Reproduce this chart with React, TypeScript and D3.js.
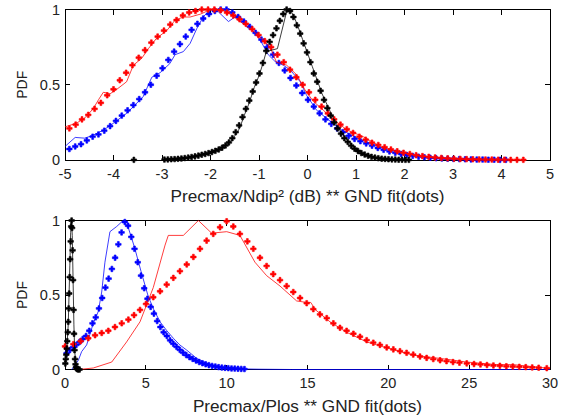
import React from "react";
import * as d3 from "d3";

const W = 568;
const H = 419;

// ---------- Top panel: Precmax/Ndip² (dB) ----------
const topXTicks = [-5, -4, -3, -2, -1, 0, 1, 2, 3, 4, 5];
const yTicks = [0, 0.5, 1];
const yTickLabels = ["0", "0.5", "1"];

const topRedDotsX = [-4.91,-4.78,-4.65,-4.52,-4.39,-4.26,-4.13,-4.0,-3.87,-3.74,-3.61,-3.48,-3.35,-3.22,-3.09,-2.96,-2.83,-2.7,-2.57,-2.44,-2.31,-2.18,-2.05,-1.92,-1.79,-1.66,-1.53,-1.4,-1.27,-1.14,-1.01,-0.88,-0.75,-0.62,-0.49,-0.36,-0.23,-0.1,0.03,0.16,0.29,0.42,0.55,0.68,0.81,0.94,1.07,1.2,1.33,1.46,1.59,1.72,1.85,1.98,2.11,2.24,2.37,2.5,2.63,2.76,2.89,3.02,3.15,3.28,3.41,3.54,3.67,3.8,3.93,4.06,4.19,4.32,4.45];
const topRedDotsY = [0.21,0.235,0.27,0.3,0.34,0.38,0.43,0.47,0.53,0.58,0.63,0.68,0.73,0.78,0.82,0.86,0.9,0.93,0.96,0.98,0.99,1.0,1.0,1.0,0.995,0.98,0.96,0.935,0.905,0.87,0.83,0.79,0.75,0.7,0.65,0.6,0.55,0.5,0.45,0.4,0.355,0.31,0.27,0.235,0.205,0.18,0.155,0.135,0.115,0.1,0.085,0.07,0.058,0.048,0.04,0.032,0.026,0.021,0.017,0.014,0.011,0.009,0.007,0.006,0.005,0.004,0.003,0.003,0.002,0.002,0.001,0.001,0.001];

const topRedLineX = [-5,-4.76,-4.59,-4.42,-4.31,-4.21,-4.07,-3.93,-3.73,-3.59,-3.42,-3.28,-3.11,-2.9,-2.73,-2.56,-2.42,-2.2,-2.0,-1.77,-1.55,-1.39,-1.05,-0.77,-0.64,-0.43,-0.22,-0.05,0.12,0.33,0.46,0.81,1.15,1.5,1.84,2.18,2.53,2.87,3.2,3.5];
const topRedLineY = [0.22,0.245,0.28,0.34,0.4,0.45,0.44,0.47,0.52,0.63,0.675,0.74,0.81,0.86,0.93,0.95,0.95,0.97,1.0,1.0,0.96,0.92,0.84,0.75,0.65,0.63,0.565,0.465,0.39,0.33,0.29,0.2,0.155,0.09,0.055,0.033,0.018,0.01,0.005,0.003];

const topBlueDotsX = [-4.91,-4.79,-4.67,-4.55,-4.43,-4.31,-4.19,-4.07,-3.95,-3.83,-3.71,-3.59,-3.47,-3.35,-3.23,-3.11,-2.99,-2.87,-2.75,-2.63,-2.51,-2.39,-2.27,-2.15,-2.03,-1.91,-1.79,-1.67,-1.55,-1.43,-1.31,-1.19,-1.07,-0.95,-0.83,-0.71,-0.59,-0.47,-0.35,-0.23,-0.11,0.01,0.13,0.25,0.37,0.49,0.61,0.73,0.85,0.97,1.09,1.21,1.33,1.45,1.57,1.69,1.81,1.93,2.05,2.17,2.29,2.41,2.53,2.65,2.77,2.89,3.01,3.13,3.25,3.37,3.49,3.61,3.73,3.85,3.97,4.09];
const topBlueDotsY = [0.073,0.09,0.105,0.13,0.155,0.17,0.195,0.225,0.26,0.295,0.33,0.365,0.405,0.45,0.5,0.56,0.61,0.665,0.72,0.77,0.82,0.865,0.905,0.94,0.97,0.99,1.0,1.0,0.98,0.95,0.92,0.885,0.845,0.8,0.75,0.7,0.645,0.595,0.545,0.495,0.445,0.4,0.355,0.31,0.27,0.24,0.21,0.185,0.16,0.14,0.125,0.11,0.095,0.08,0.068,0.057,0.048,0.04,0.033,0.027,0.022,0.018,0.015,0.012,0.01,0.008,0.007,0.006,0.005,0.004,0.003,0.003,0.002,0.002,0.001,0.001];

const topBlueLineX = [-5,-4.79,-4.59,-4.42,-4.2,-4.0,-3.73,-3.39,-3.21,-3.04,-2.84,-2.73,-2.56,-2.42,-2.28,-2.15,-2.01,-1.84,-1.63,-1.43,-1.19,-0.98,-0.81,-0.67,-0.5,-0.36,-0.15,-0.02,0.19,0.4,0.7,1.0,1.3,1.6,1.9,2.2,2.5,2.8,3.1];
const topBlueLineY = [0.09,0.15,0.145,0.165,0.2,0.245,0.31,0.42,0.55,0.58,0.64,0.7,0.72,0.775,0.875,0.95,1.0,0.985,0.92,0.965,0.885,0.8,0.7,0.655,0.63,0.6,0.52,0.43,0.33,0.275,0.2,0.15,0.11,0.075,0.05,0.03,0.015,0.008,0.003];

const topBlackDotsX = [-3.58,-2.95,-2.88,-2.81,-2.74,-2.67,-2.6,-2.53,-2.46,-2.39,-2.32,-2.25,-2.18,-2.11,-2.04,-1.97,-1.9,-1.83,-1.76,-1.69,-1.62,-1.55,-1.48,-1.41,-1.34,-1.27,-1.2,-1.13,-1.06,-0.99,-0.92,-0.85,-0.78,-0.71,-0.64,-0.57,-0.5,-0.43,-0.36,-0.29,-0.22,-0.15,-0.08,-0.01,0.06,0.13,0.2,0.27,0.34,0.41,0.48,0.55,0.62,0.69,0.76,0.83,0.9,0.97,1.04,1.11,1.18,1.25,1.32,1.39,1.46,1.53,1.6,1.67,1.74,1.81,1.88,1.95,2.02,2.09];
const topBlackDotsY = [0.001,0.003,0.004,0.005,0.006,0.008,0.01,0.013,0.016,0.02,0.024,0.029,0.035,0.04,0.046,0.053,0.061,0.07,0.082,0.097,0.117,0.145,0.185,0.23,0.285,0.34,0.395,0.455,0.515,0.575,0.645,0.725,0.785,0.83,0.875,0.925,0.97,1.0,0.99,0.95,0.895,0.84,0.775,0.715,0.65,0.575,0.52,0.46,0.4,0.345,0.295,0.25,0.21,0.175,0.145,0.12,0.095,0.075,0.06,0.046,0.036,0.028,0.021,0.016,0.012,0.009,0.007,0.005,0.004,0.003,0.002,0.002,0.001,0.001];

const topBlackLineX = [-3.0,-2.5,-2.0,-1.75,-1.6,-1.5,-1.4,-1.3,-1.2,-1.1,-1.0,-0.92,-0.85,-0.62,-0.42,-0.3,-0.2,-0.1,0.0,0.1,0.2,0.3,0.4,0.5,0.6,0.7,0.8,0.9,1.0,1.2,1.4,1.6,1.8,2.0];
const topBlackLineY = [0.003,0.014,0.05,0.085,0.12,0.16,0.21,0.3,0.38,0.48,0.56,0.64,0.72,0.74,1.0,0.97,0.89,0.8,0.71,0.62,0.53,0.44,0.37,0.3,0.23,0.18,0.14,0.1,0.07,0.035,0.015,0.006,0.003,0.001];

// ---------- Bottom panel: Precmax/Plos ----------
const botXTicks = [0, 5, 10, 15, 20, 25, 30];

const botBlueDotsX = [0.1,0.3,0.5,0.7,0.9,1.1,1.3,1.5,1.7,1.9,2.1,2.3,2.5,2.7,2.9,3.1,3.3,3.5,3.7,3.9,4.1,4.3,4.5,4.7,4.9,5.1,5.3,5.5,5.7,5.9,6.1,6.3,6.5,6.7,6.9,7.1,7.3,7.5,7.7,7.9,8.1,8.3,8.5,8.7,8.9,9.1,9.3,9.5,9.7,9.9,10.1,10.3,10.5,10.7,10.9,11.1];
const botBlueDotsY = [0.11,0.13,0.15,0.165,0.185,0.205,0.225,0.26,0.31,0.35,0.41,0.48,0.55,0.61,0.675,0.75,0.84,0.92,0.99,0.965,0.89,0.81,0.72,0.63,0.545,0.475,0.42,0.375,0.325,0.285,0.25,0.225,0.196,0.173,0.152,0.132,0.113,0.097,0.083,0.071,0.06,0.05,0.042,0.035,0.029,0.024,0.02,0.016,0.013,0.011,0.009,0.007,0.006,0.005,0.004,0.003];

const botBlueLineX = [0.41,0.82,1.03,1.34,1.75,2.06,2.27,2.47,2.78,3.2,3.6,3.92,4.3,4.7,5.15,5.5,5.88,6.3,6.7,7.1,7.53,8.14,8.6,9.0,9.5,10,11,12,14,30];
const botBlueLineY = [0,0.06,0.12,0.165,0.31,0.39,0.52,0.72,0.925,0.96,1.0,0.95,0.82,0.66,0.49,0.4,0.32,0.26,0.21,0.165,0.13,0.075,0.05,0.035,0.02,0.012,0.004,0.002,0,0];

const botRedDotsX = [0,0.52,0.97,1.44,1.86,2.27,2.68,3.09,3.51,3.92,4.27,4.64,5.01,5.46,5.88,6.29,6.7,7.11,7.53,7.94,8.35,8.76,9.17,9.59,10.0,10.41,10.82,11.28,11.65,12.06,12.47,12.88,13.3,13.71,14.12,14.54,14.95,15.36,15.77,16.19,16.6,17.01,17.42,17.84,18.25,18.66,19.07,19.48,19.9,20.31,20.72,21.13,21.54,21.96,22.37,22.78,23.2,23.6,24.0,24.4,24.85,25.3,25.7,26.1,26.5,26.9,27.3,27.7,28.1,28.5,28.9,29.3,29.8];
const botRedDotsY = [0.155,0.17,0.19,0.21,0.23,0.245,0.26,0.285,0.31,0.335,0.365,0.4,0.44,0.485,0.525,0.57,0.615,0.66,0.705,0.755,0.81,0.865,0.91,0.955,0.995,0.96,0.91,0.86,0.81,0.75,0.695,0.64,0.6,0.56,0.52,0.48,0.445,0.405,0.37,0.345,0.31,0.28,0.26,0.24,0.22,0.197,0.18,0.165,0.148,0.135,0.123,0.112,0.1,0.087,0.078,0.07,0.062,0.056,0.05,0.046,0.041,0.037,0.034,0.03,0.027,0.025,0.022,0.02,0.018,0.016,0.014,0.012,0.009];

const botRedLineX = [0.82,1.75,2.89,3.81,4.64,5.46,6.19,6.39,7.32,8.25,9.07,10.0,10.82,11.75,12.47,13.3,14.33,14.95,15.2,15.5,16.39,17.42,18.66,19.9,21.54,23.6,24.85,26.7,27.7,30];
const botRedLineY = [0,0.01,0.05,0.185,0.32,0.55,0.835,0.9,0.9,1.0,0.915,0.925,0.9,0.72,0.63,0.56,0.46,0.45,0.45,0.4,0.32,0.25,0.185,0.145,0.096,0.069,0.05,0.033,0.033,0.007];

const botBlackDotsX = [0.02,0.05,0.08,0.11,0.14,0.17,0.2,0.23,0.26,0.29,0.32,0.35,0.38,0.41,0.44,0.47,0.5,0.53,0.56,0.59,0.62,0.65,0.68,0.72,0.76,0.82,0.9];
const botBlackDotsY = [0.04,0.07,0.1,0.14,0.19,0.25,0.32,0.41,0.51,0.62,0.74,0.86,0.96,1.0,0.95,0.8,0.6,0.4,0.24,0.13,0.07,0.035,0.015,0.006,0.002,0.0,0.0];

const botBlackLineX = [0,0.1,0.2,0.3,0.35,0.4,0.45,0.5,0.55,0.6,0.7,0.8];
const botBlackLineY = [0.05,0.12,0.3,0.7,0.92,1.0,0.9,0.6,0.3,0.12,0.02,0];

const RED = "#ff0000";
const BLUE = "#0000ff";
const BLACK = "#000000";
const FONT = "'Liberation Sans', Arial, Helvetica, sans-serif";

type Series = { x: number[]; y: number[]; color: string; kind: "line" | "dots" };

function zip(xs: number[], ys: number[]): [number, number][] {
  return xs.map((v, i) => [v, ys[i]] as [number, number]);
}

function Panel(props: {
  left: number; right: number; top: number; bottom: number;
  xDomain: [number, number]; xTicks: number[]; xLabel: string;
  series: Series[];
}) {
  const { left, right, top, bottom, xDomain, xTicks, xLabel, series } = props;
  const x = d3.scaleLinear().domain(xDomain).range([left, right]);
  const y = d3.scaleLinear().domain([0, 1]).range([bottom, top]);
  const line = d3.line<[number, number]>().x((d) => x(d[0])).y((d) => y(d[1]));
  const marker = d3.symbol().type(d3.symbolCross).size(17)() as string;
  const tl = 5;
  return (
    <g>
      <rect x={left} y={top} width={right - left} height={bottom - top} fill="white" stroke={BLACK} strokeWidth={1} shapeRendering="crispEdges" />
      {xTicks.map((t) => (
        <g key={"xt" + t}>
          <line x1={x(t)} x2={x(t)} y1={bottom} y2={bottom - tl} stroke={BLACK} shapeRendering="crispEdges" />
          <line x1={x(t)} x2={x(t)} y1={top} y2={top + tl} stroke={BLACK} shapeRendering="crispEdges" />
          <text x={x(t)} y={bottom + 18.5} textAnchor="middle" fontSize={14.5} fontFamily={FONT} fill="#222">{String(t)}</text>
        </g>
      ))}
      {yTicks.map((t, i) => (
        <g key={"yt" + t}>
          <line x1={left} x2={left + tl} y1={y(t)} y2={y(t)} stroke={BLACK} shapeRendering="crispEdges" />
          <line x1={right} x2={right - tl} y1={y(t)} y2={y(t)} stroke={BLACK} shapeRendering="crispEdges" />
          <text x={left - 5} y={y(t) + 5} textAnchor="end" fontSize={14.5} fontFamily={FONT} fill="#222">{yTickLabels[i]}</text>
        </g>
      ))}
      <text x={(left + right) / 2} y={bottom + 42} textAnchor="middle" fontSize={17.2} fontFamily={FONT} fill="#222">{xLabel}</text>
      <text transform={`translate(${27},${(top + bottom) / 2 + 0}) rotate(-90)`} textAnchor="middle" fontSize={14} fontFamily={FONT} fill="#222">PDF</text>
      {series.map((s, i) =>
        s.kind === "line" ? (
          <path key={i} d={line(zip(s.x, s.y)) as string} fill="none" stroke={s.color} strokeWidth={0.9} strokeOpacity={0.85} />
        ) : (
          <g key={i} fill={s.color} stroke={s.color} strokeWidth={0.6}>
            {zip(s.x, s.y).map((d, j) => (
              <path key={j} d={marker} transform={`translate(${x(d[0])},${y(d[1])})`} />
            ))}
          </g>
        )
      )}
    </g>
  );
}

export default function App() {
  const topSeries: Series[] = [
    { x: topBlueLineX, y: topBlueLineY, color: BLUE, kind: "line" },
    { x: topBlueDotsX, y: topBlueDotsY, color: BLUE, kind: "dots" },
    { x: topRedLineX, y: topRedLineY, color: RED, kind: "line" },
    { x: topRedDotsX, y: topRedDotsY, color: RED, kind: "dots" },
    { x: topBlackLineX, y: topBlackLineY, color: BLACK, kind: "line" },
    { x: topBlackDotsX, y: topBlackDotsY, color: BLACK, kind: "dots" },
  ];
  const botSeries: Series[] = [
    { x: botBlueLineX, y: botBlueLineY, color: BLUE, kind: "line" },
    { x: botBlueDotsX, y: botBlueDotsY, color: BLUE, kind: "dots" },
    { x: botRedLineX, y: botRedLineY, color: RED, kind: "line" },
    { x: botRedDotsX, y: botRedDotsY, color: RED, kind: "dots" },
    { x: botBlackLineX, y: botBlackLineY, color: BLACK, kind: "line" },
    { x: botBlackDotsX, y: botBlackDotsY, color: BLACK, kind: "dots" },
  ];
  return (
    <svg width={W} height={H} viewBox={`0 0 ${W} ${H}`} style={{ position: "absolute", left: 0, top: 0, background: "white" }}>
      <rect x={0} y={0} width={W} height={H} fill="white" />
      <Panel left={65} right={550} top={9.5} bottom={160} xDomain={[-5, 5]} xTicks={topXTicks}
        xLabel="Precmax/Ndip² (dB) ** GND fit(dots)" series={topSeries} />
      <Panel left={65} right={550} top={220.5} bottom={369.5} xDomain={[0, 30]} xTicks={botXTicks}
        xLabel="Precmax/Plos ** GND fit(dots)" series={botSeries} />
    </svg>
  );
}
